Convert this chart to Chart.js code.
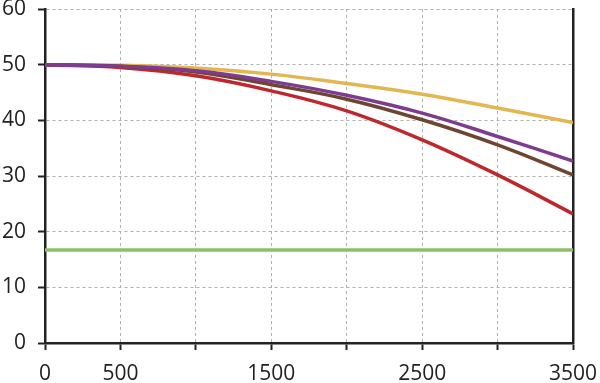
<!DOCTYPE html>
<html>
<head>
<meta charset="utf-8">
<script src="https://cdn.jsdelivr.net/npm/chart.js@4"></script>
<style>
  html, body { margin: 0; padding: 0; background: #fff; }
  #wrap { width: 600px; height: 383px; }
</style>
</head>
<body>
<div id="wrap"><canvas id="chart"></canvas></div>
<script>
const xValues = [0, 500, 1000, 1500, 2000, 2500, 3000, 3500];
const purple = [50, 49.7, 48.9, 47.0, 44.5, 41.3, 37.1, 32.7];
const brown  = [50, 49.7, 48.7, 46.4, 43.8, 40.1, 35.6, 30.2];
const red    = [50, 49.5, 48.0, 45.3, 41.7, 36.5, 30.2, 23.2];
const yellow = [50, 49.9, 49.4, 48.3, 46.6, 44.7, 42.2, 39.6];
const green  = [16.7, 16.7, 16.7, 16.7, 16.7, 16.7, 16.7, 16.7];
const shownXLabels = [0, 500, 1500, 2500, 3500];

function toPoints(ys) {
  return xValues.map((x, i) => ({ x: x, y: ys[i] }));
}

function line(data, color) {
  return {
    data: toPoints(data),
    borderColor: color,
    borderWidth: 3.5,
    pointRadius: 0,
    tension: 0.4,
    fill: false
  };
}

Chart.defaults.font.family = "'Open Sans', sans-serif";
Chart.defaults.font.size = 21;
Chart.defaults.color = '#222';

const ctx = document.getElementById('chart').getContext('2d');
new Chart(ctx, {
  type: 'line',
  data: {
    datasets: [
      line(purple, '#7d3c8f'),
      line(brown, '#6e4530'),
      line(red, '#c0272d'),
      line(yellow, '#e2b650'),
      line(green, '#8cc06a')
    ]
  },
  options: {
    responsive: true,
    maintainAspectRatio: false,
    animation: false,
    layout: { padding: { top: 9, right: 27, left: 0, bottom: 0 } },
    plugins: {
      legend: { display: false },
      tooltip: { enabled: false }
    },
    scales: {
      x: {
        type: 'linear',
        min: 0,
        max: 3500,
        ticks: {
          stepSize: 500,
          autoSkip: false,
          maxRotation: 0,
          padding: 11,
          callback: (v) => shownXLabels.includes(v) ? String(v) : ''
        },
        grid: {
          color: '#b0b0b0',
          lineWidth: 1,
          tickColor: '#222',
          tickWidth: 2,
          tickLength: 7
        },
        border: { color: '#222', width: 2.5, dash: [3, 3] },
        afterFit: (s) => { s.height = 40; s.paddingLeft = 0; s.paddingRight = 0; }
      },
      y: {
        min: 0,
        max: 60,
        ticks: { stepSize: 10, padding: 12 },
        grid: {
          color: '#b0b0b0',
          lineWidth: 1,
          tickColor: '#222',
          tickWidth: 2,
          tickLength: 7
        },
        border: { color: '#222', width: 2.5, dash: [3, 3] },
        afterFit: (s) => { s.width = 45; s.paddingTop = 0; s.paddingBottom = 0; }
      },
      y2: {
        position: 'right',
        min: 0,
        max: 60,
        ticks: { display: false },
        grid: { display: false, drawTicks: false },
        border: { color: '#222', width: 2.5 },
        afterFit: (s) => { s.width = 0; s.paddingTop = 0; s.paddingBottom = 0; }
      }
    }
  }
});
</script>
</body>
</html>
